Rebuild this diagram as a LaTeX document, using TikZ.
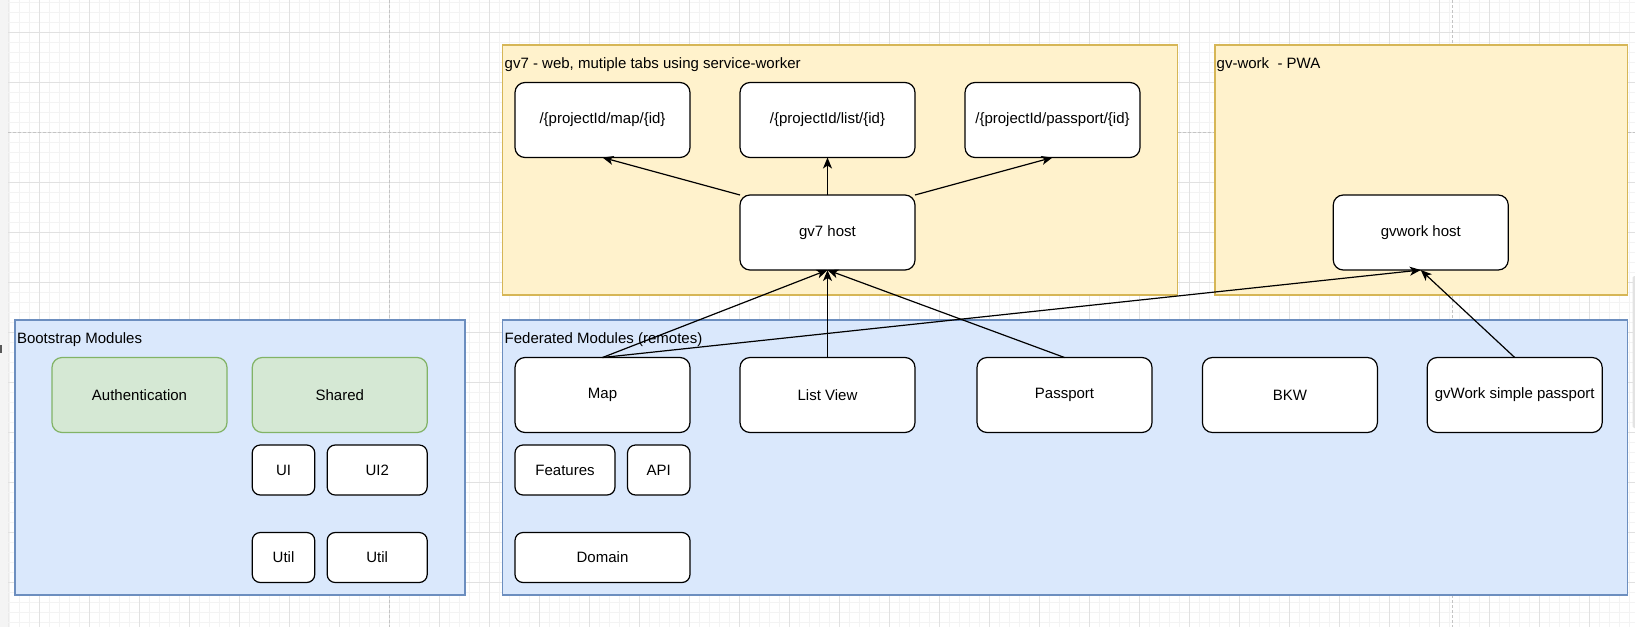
\documentclass[tikz,border=0pt]{standalone}
\usepackage{fontspec}
\setmainfont{Liberation Sans}
\usetikzlibrary{arrows.meta}

\definecolor{gridminor}{HTML}{F3F3F3}
\definecolor{gridmajor}{HTML}{E1E1E1}
\definecolor{pagebreak}{HTML}{C4C4C4}
\definecolor{sideband}{HTML}{F4F4F4}
\definecolor{goldfill}{HTML}{FFF2CC}
\definecolor{golddraw}{HTML}{D6B656}
\definecolor{bluefill}{HTML}{DAE8FC}
\definecolor{bluedraw}{HTML}{6C8EBF}
\definecolor{greenfill}{HTML}{D5E8D4}
\definecolor{greendraw}{HTML}{82B366}

\begin{document}
\begin{tikzpicture}[x=1pt,y=-1pt,
  every node/.style={font=\fontsize{15}{18}\selectfont},
  module/.style={draw=black, fill=white, line width=1.2pt, rounded corners=10pt,
                 inner sep=0pt, outer sep=0pt, minimum width=175pt, minimum height=75pt},
  smallmod/.style={module, minimum height=50pt, rounded corners=8pt},
  bootmod/.style={module, draw=greendraw, fill=greenfill},
  container/.style={line width=1.2pt, inner sep=0pt, outer sep=0pt},
  caption/.style={anchor=base west, inner sep=0pt},
  link/.style={line width=1.2pt, -{Stealth[length=11pt,width=9pt,inset=3pt]}}
]
\useasboundingbox (0,0) rectangle (1635,627);

% canvas grid
\fill[white] (0,0) rectangle (1635,627);
\fill[sideband] (0,0) rectangle (8.3,627);
\draw[gridmajor!70, line width=0.6pt] (8.3,0) -- (8.3,627);
\foreach \i in {0,...,162} \draw[gridminor, line width=0.8pt] ({9.3+10*\i},0) -- ++(0,627);
\foreach \j in {0,...,62} \draw[gridminor, line width=0.8pt] (8.3,{2.3+10*\j}) -- (1635,{2.3+10*\j});
\foreach \i in {0,...,31} \draw[gridmajor, line width=0.8pt] ({39.3+50*\i},0) -- ++(0,627);
\foreach \j in {0,...,11} \draw[gridmajor, line width=0.8pt] (8.3,{32.3+50*\j}) -- (1635,{32.3+50*\j});
% page breaks
\draw[pagebreak, line width=0.8pt, dash pattern=on 3pt off 2pt] (389.7,0) -- (389.7,627);
\draw[pagebreak, line width=0.8pt, dash pattern=on 3pt off 2pt] (1452.3,0) -- (1452.3,627);
\draw[pagebreak, line width=0.8pt, dash pattern=on 3pt off 2pt] (8.3,132.3) -- (1635,132.3);
% edge marks of the canvas
\fill[black!65] (0,345) rectangle (2.2,353);
\fill[gray!22, rounded corners=1.5pt] (1632.5,276) rectangle (1638,428);

% containers
\node[container, draw=golddraw, fill=goldfill, minimum width=675pt, minimum height=250pt] (gvseven) at (840,170) {};
\node[container, draw=golddraw, fill=goldfill, minimum width=412.5pt, minimum height=250pt] (gvwork) at (1421.25,170) {};
\node[container, draw=bluedraw, fill=bluefill, minimum width=450pt, minimum height=275pt] (boot) at (240,457.5) {};
\node[container, draw=bluedraw, fill=bluefill, minimum width=1125pt, minimum height=275pt] (fed) at (1065,457.5) {};

\node[caption] (capgvseven) at ([shift={(2,23)}]gvseven.north west) {gv7 - web, mutiple tabs using service-worker};
\node[caption] (capgvwork) at ([shift={(1.5,23)}]gvwork.north west) {gv-work\ \ - PWA};
\node[caption] (capboot) at ([shift={(1.8,23)}]boot.north west) {Bootstrap Modules};
\node[caption] (capfed) at ([shift={(2,23)}]fed.north west) {Federated Modules (remotes)};

% gv7 routes and hosts
\node[module] (rmap) at (602.5,120) {/\{projectId/map/\{id\}};
\node[module] (rlist) at (827.5,120) {/\{projectId/list/\{id\}};
\node[module] (rpass) at (1052.5,120) {/\{projectId/passport/\{id\}};
\node[module] (gvhost) at (827.5,232.5) {gv7 host};
\node[module] (gvworkhost) at (1420.75,232.5) {gvwork host};

% bootstrap modules
\node[bootmod] (auth) at (139.5,395) {Authentication};
\node[bootmod] (shared) at (339.75,395) {Shared};
\node[smallmod, minimum width=62.5pt] (ui) at (283.5,470) {UI};
\node[smallmod, minimum width=100pt] (uitwo) at (377.2,470) {UI2};
\node[smallmod, minimum width=62.5pt] (utilone) at (283.5,557.5) {Util};
\node[smallmod, minimum width=100pt] (utiltwo) at (377.2,557.5) {Util};

% federated modules
\node[module] (map) at (602.5,395) {Map};
\node[module] (listview) at (827.5,395) {List View};
\node[module] (passport) at (1064.5,395) {Passport};
\node[module] (bkw) at (1289.9,395) {BKW};
\node[module] (gvsimple) at (1514.7,395) {gvWork simple passport};
\node[smallmod, minimum width=100pt] (features) at (565,470) {Features};
\node[smallmod, minimum width=62.5pt] (api) at (658.75,470) {API};
\node[smallmod] (domain) at (602.5,557.5) {Domain};

% connections
\draw[link] (gvhost.north west) -- (rmap.south);
\draw[link] (gvhost.north) -- (rlist.south);
\draw[link] (gvhost.north east) -- (rpass.south);
\draw[link] (map.north) -- (gvhost.south);
\draw[link] (listview.north) -- (gvhost.south);
\draw[link] (passport.north) -- (gvhost.south);
\draw[link] (map.north) -- (gvworkhost.south);
\draw[link] (gvsimple.north) -- (gvworkhost.south);
\end{tikzpicture}
\end{document}
